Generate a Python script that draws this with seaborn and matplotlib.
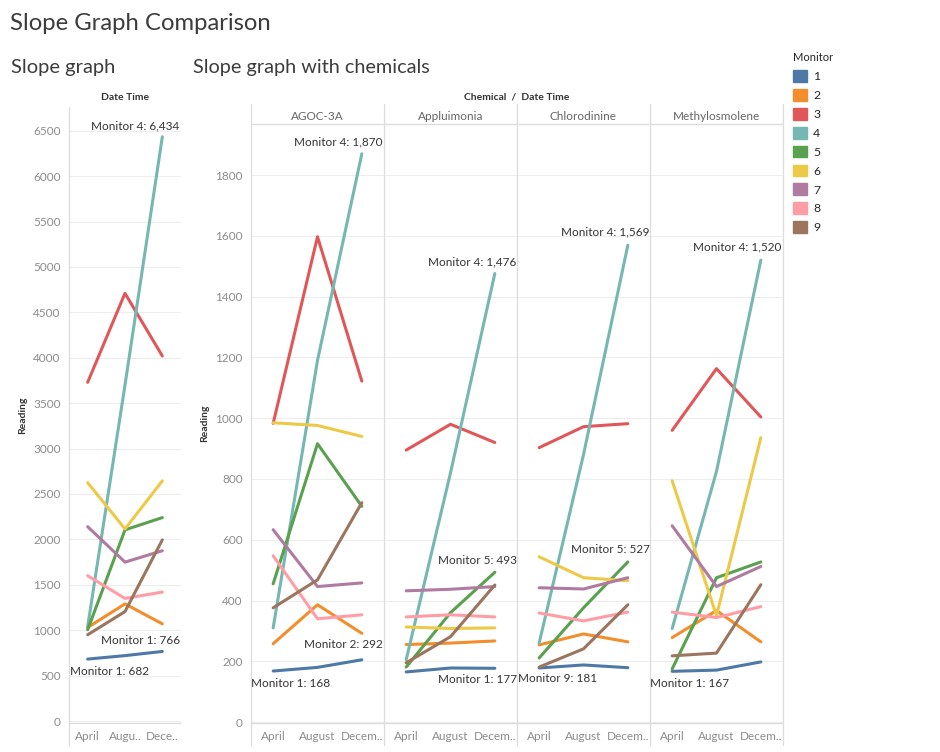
import numpy as np
import pandas as pd
import matplotlib.pyplot as plt
import seaborn as sns
from matplotlib.lines import Line2D
from matplotlib.patches import Patch

# ---- data ----
months = ['April', 'August', 'December']
monitors = [1, 2, 3, 4, 5, 6, 7, 8, 9]
chemicals = ['AGOC-3A', 'Appluimonia', 'Chlorodinine', 'Methylosmolene']
colors = ['#4E79A7', '#F28E2B', '#E15759', '#76B7B2', '#59A14F',
          '#EDC948', '#B07AA1', '#FF9DA7', '#9C755F']

# rows = monitor 1..9, columns = April, August, December
overall = [
    [682, 720, 766],
    [1030, 1290, 1070],
    [3730, 4710, 4020],
    [1040, 3700, 6434],
    [1005, 2105, 2240],
    [2625, 2115, 2645],
    [2140, 1750, 1875],
    [1600, 1350, 1420],
    [950, 1205, 1995],
]
agoc_3a = [
    [168, 180, 205],
    [258, 386, 292],
    [983, 1597, 1122],
    [310, 1190, 1870],
    [455, 916, 710],
    [985, 976, 940],
    [633, 446, 458],
    [547, 340, 353],
    [376, 468, 722],
]
appluimonia = [
    [165, 178, 177],
    [255, 260, 267],
    [895, 980, 920],
    [205, 820, 1476],
    [181, 360, 493],
    [313, 308, 310],
    [432, 437, 446],
    [346, 353, 346],
    [195, 281, 451],
]
chlorodinine = [
    [178, 188, 179],
    [254, 290, 264],
    [903, 972, 982],
    [260, 880, 1569],
    [211, 376, 527],
    [544, 475, 465],
    [442, 438, 475],
    [359, 333, 362],
    [181, 241, 386],
]
methylosmolene = [
    [167, 171, 198],
    [278, 367, 264],
    [960, 1163, 1004],
    [308, 825, 1520],
    [175, 475, 527],
    [794, 350, 936],
    [646, 446, 512],
    [362, 344, 380],
    [218, 227, 452],
]
chem_data = [agoc_3a, appluimonia, chlorodinine, methylosmolene]

# labels: (monitor, month index, ha, dx px, dy px)
overall_labels = [(4, 2, 'right', 17, 11), (1, 2, 'right', 18, 11), (1, 0, 'left', -18, -12)]
chem_labels = [
    [(4, 2, 'right', 21, 12), (2, 2, 'right', 21, -11), (1, 0, 'left', -22, -12)],
    [(4, 2, 'right', 22, 12), (5, 2, 'right', 22, 12), (1, 2, 'right', 22, -11)],
    [(4, 2, 'right', 22, 13), (5, 2, 'right', 22, 12), (9, 0, 'left', -21, -11)],
    [(4, 2, 'right', 21, 13), (1, 0, 'left', -22, -12)],
]


def to_long(values):
    rows = []
    for m, vals in zip(monitors, values):
        for mo, v in zip(months, vals):
            rows.append({'Monitor': m, 'Month': mo, 'Reading': v})
    return pd.DataFrame(rows)


sns.set_theme(style='white')
plt.rcParams['font.family'] = ['Lato', 'DejaVu Sans']

W, H = 940, 752
fig = plt.figure(figsize=(W / 100, H / 100), dpi=100)


def px(x0, y0, x1, y1):
    return [x0 / W, 1 - y1 / H, (x1 - x0) / W, (y1 - y0) / H]


def fline(x0, y0, x1, y1, c='#dcdcdc', lw=0.9):
    fig.add_artist(Line2D([x0 / W, x1 / W], [1 - y0 / H, 1 - y1 / H],
                          color=c, lw=lw, transform=fig.transFigure))


palette = dict(zip(monitors, colors))
grey = '#8c8c8c'
dark = '#333333'


def style_axes(ax, ylim, yticks, xlabels, show_y):
    ax.set_xlim(-0.5, 2.5)
    ax.set_ylim(*ylim)
    ax.set_yticks(yticks)
    ax.yaxis.grid(True, color='#ededed', lw=0.8)
    ax.xaxis.grid(False)
    ax.set_axisbelow(True)
    for s in ax.spines.values():
        s.set_visible(False)
    ax.set_xticks([0, 1, 2])
    ax.set_xticklabels(xlabels)
    ax.set_xticks([-0.5, 0.5, 1.5, 2.5], minor=True)
    ax.tick_params(axis='x', which='major', length=0, pad=6, labelsize=8.5, labelcolor=grey)
    ax.tick_params(axis='x', which='minor', length=16, width=0.8, color='#e4e4e4', direction='out')
    ax.tick_params(axis='y', length=0, pad=6, labelsize=8.5, labelcolor=grey)
    if not show_y:
        ax.set_yticklabels([])
    ax.set_xlabel('')
    ax.set_ylabel('')


def add_labels(ax, values, specs):
    for mon, mi, ha, dx, dy in specs:
        v = values[mon - 1][mi]
        ax.annotate(f'Monitor {mon}: {v:,}', xy=(mi, v), xytext=(dx, dy),
                    textcoords='offset pixels', ha=ha, va='center',
                    fontsize=8.5, color=dark)


# ---- left panel: overall ----
ax0 = fig.add_axes(px(69, 107, 181, 723))
sns.lineplot(data=to_long(overall), x='Month', y='Reading', hue='Monitor',
             palette=palette, linewidth=2.2, legend=False, ax=ax0)
style_axes(ax0, (-22, 6762), range(0, 6501, 500), ['April', 'Augu..', 'Dece..'], True)
add_labels(ax0, overall, overall_labels)
ax0.set_ylabel('Reading', fontsize=7.5, color=dark, fontweight='bold')
ax0.yaxis.set_label_coords(-42 / 112, 0.5)
fline(69, 107, 69, 745)
fline(69, 723, 181, 723)

# ---- right panels: per chemical ----
x_edges = [251, 384, 517, 650, 783]
for i, chem in enumerate(chemicals):
    ax = fig.add_axes(px(x_edges[i], 124, x_edges[i + 1], 723))
    sns.lineplot(data=to_long(chem_data[i]), x='Month', y='Reading', hue='Monitor',
                 palette=palette, linewidth=2.2, legend=False, ax=ax)
    style_axes(ax, (-3, 1968), range(0, 1801, 200), ['April', 'August', 'Decem..'], i == 0)
    add_labels(ax, chem_data[i], chem_labels[i])
    ax.annotate(chem, xy=(0.5, 1), xycoords='axes fraction', xytext=(0, 8),
                textcoords='offset pixels', ha='center', va='center',
                fontsize=8.5, color='#666666')
    if i == 0:
        ax.set_ylabel('Reading', fontsize=7.5, color=dark, fontweight='bold')
        ax.yaxis.set_label_coords(-42 / 133, 0.5)

for xe in x_edges:
    fline(xe, 104, xe, 745)
fline(251, 124, 783, 124)
fline(251, 723, 783, 723)

# ---- titles ----
fig.text(10 / W, 1 - 24 / H, 'Slope Graph Comparison', fontsize=17.2, color='#3c3c3c',
         va='center')
fig.text(11 / W, 1 - 67 / H, 'Slope graph', fontsize=14.5, color='#3c3c3c',
         va='center')
fig.text(193 / W, 1 - 67 / H, 'Slope graph with chemicals', fontsize=14.3, color='#3c3c3c',
         va='center')
fig.text(125 / W, 1 - 97 / H, 'Date Time', fontsize=7.5, color=dark,
         fontweight='bold', ha='center', va='center')
fig.text(517 / W, 1 - 97 / H, 'Chemical  /  Date Time', fontsize=7.5, color=dark,
         fontweight='bold', ha='center', va='center')

# ---- legend ----
handles = [Patch(facecolor=c, edgecolor=c) for c in colors]
fig.legend(handles, [str(m) for m in monitors], title='Monitor', loc='upper left',
           bbox_to_anchor=(791 / W, 1 - 50 / H), frameon=False, fontsize=8.8,
           title_fontsize=8, handlelength=1.1, handleheight=1.1, handletextpad=0.5,
           labelspacing=0.56, alignment='left', borderaxespad=0, borderpad=0.2)

fig.savefig('out.png', dpi=100)
